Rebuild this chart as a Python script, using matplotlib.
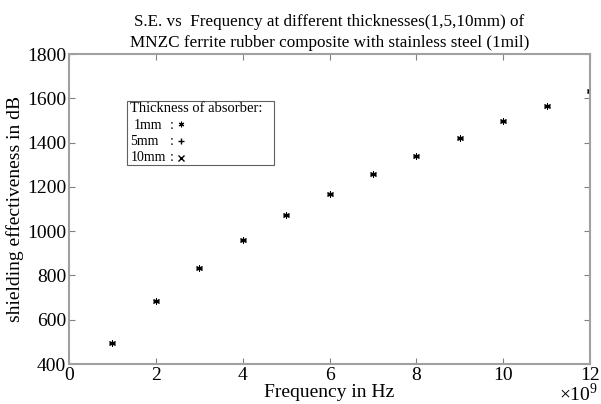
import numpy as np
import matplotlib.pyplot as plt
from matplotlib.patches import Rectangle

plt.rcParams['font.family'] = ['Liberation Serif', 'DejaVu Serif']
plt.rcParams['mathtext.fontset'] = 'custom'
plt.rcParams['mathtext.rm'] = 'Liberation Serif'

# frequency in units of 1e9 Hz
freq = [1, 2, 3, 4, 5, 6, 7, 8, 9, 10, 11, 12]
se_1mm = [497, 686, 834, 960, 1073, 1166, 1257, 1342, 1420, 1496, 1566, 1632]
se_5mm = [497, 686, 834, 960, 1073, 1166, 1257, 1342, 1420, 1496, 1566, 1632]
se_10mm = [497, 686, 834, 960, 1073, 1166, 1257, 1342, 1420, 1496, 1566, 1632]

fig = plt.figure(figsize=(6.01, 4.04), dpi=100)
ax = fig.add_axes([0.1148, 0.099, 0.867, 0.767])

ax.plot(freq, se_1mm, ls='none', marker=(6, 2, 0), color='black', ms=5, mew=0.7)
ax.plot(freq, se_5mm, ls='none', marker='+', color='black', ms=5, mew=0.7)
ax.plot(freq, se_10mm, ls='none', marker='x', color='black', ms=3.5, mew=0.7)

ax.set_xlim(0, 12)
ax.set_ylim(400, 1800)
ax.set_xticks(np.arange(0, 13, 2))
ax.set_yticks(np.arange(400, 1801, 200))

for s in ax.spines.values():
    s.set_color('#a0a0a0')
    s.set_linewidth(1.5)
ax.tick_params(direction='in', length=4, color='#808080', labelsize=14, pad=2,
               top=True, right=True)

ax.set_xlabel('Frequency in Hz', fontsize=14, labelpad=0)
ax.set_ylabel('shielding effectiveness in dB', fontsize=14, labelpad=2)
ax.set_title('S.E. vs  Frequency at different thicknesses(1,5,10mm) of\n'
             'MNZC ferrite rubber composite with stainless steel (1mil)',
             fontsize=12.3, pad=5, linespacing=1.4)
ax.text(1.015, -0.12, r'$\times 10^9$', transform=ax.transAxes, ha='right',
        va='baseline', fontsize=14)

# manual legend box
ax.add_patch(Rectangle((0.111, 0.642), 0.282, 0.206, transform=ax.transAxes,
                       facecolor='white', edgecolor='#606060', lw=0.8))
ax.text(0.118, 0.826, 'Thickness of absorber:', transform=ax.transAxes,
        fontsize=10.5, va='center')
ax.text(0.124, 0.771, '1mm', transform=ax.transAxes, fontsize=10, va='center')
ax.text(0.118, 0.719, '5mm', transform=ax.transAxes, fontsize=10, va='center')
ax.text(0.118, 0.668, '10mm', transform=ax.transAxes, fontsize=10, va='center')
for yy in [0.771, 0.719, 0.668]:
    ax.text(0.193, yy, ':', transform=ax.transAxes, fontsize=10, va='center')
ax.plot([0.215], [0.775], marker=(6, 2, 0), color='black', ms=4, mew=0.8,
        transform=ax.transAxes)
ax.plot([0.215], [0.721], marker='+', color='black', ms=5, mew=1,
        transform=ax.transAxes)
ax.plot([0.215], [0.666], marker='x', color='black', ms=4, mew=1,
        transform=ax.transAxes)

fig.savefig('out.png', dpi=100)
